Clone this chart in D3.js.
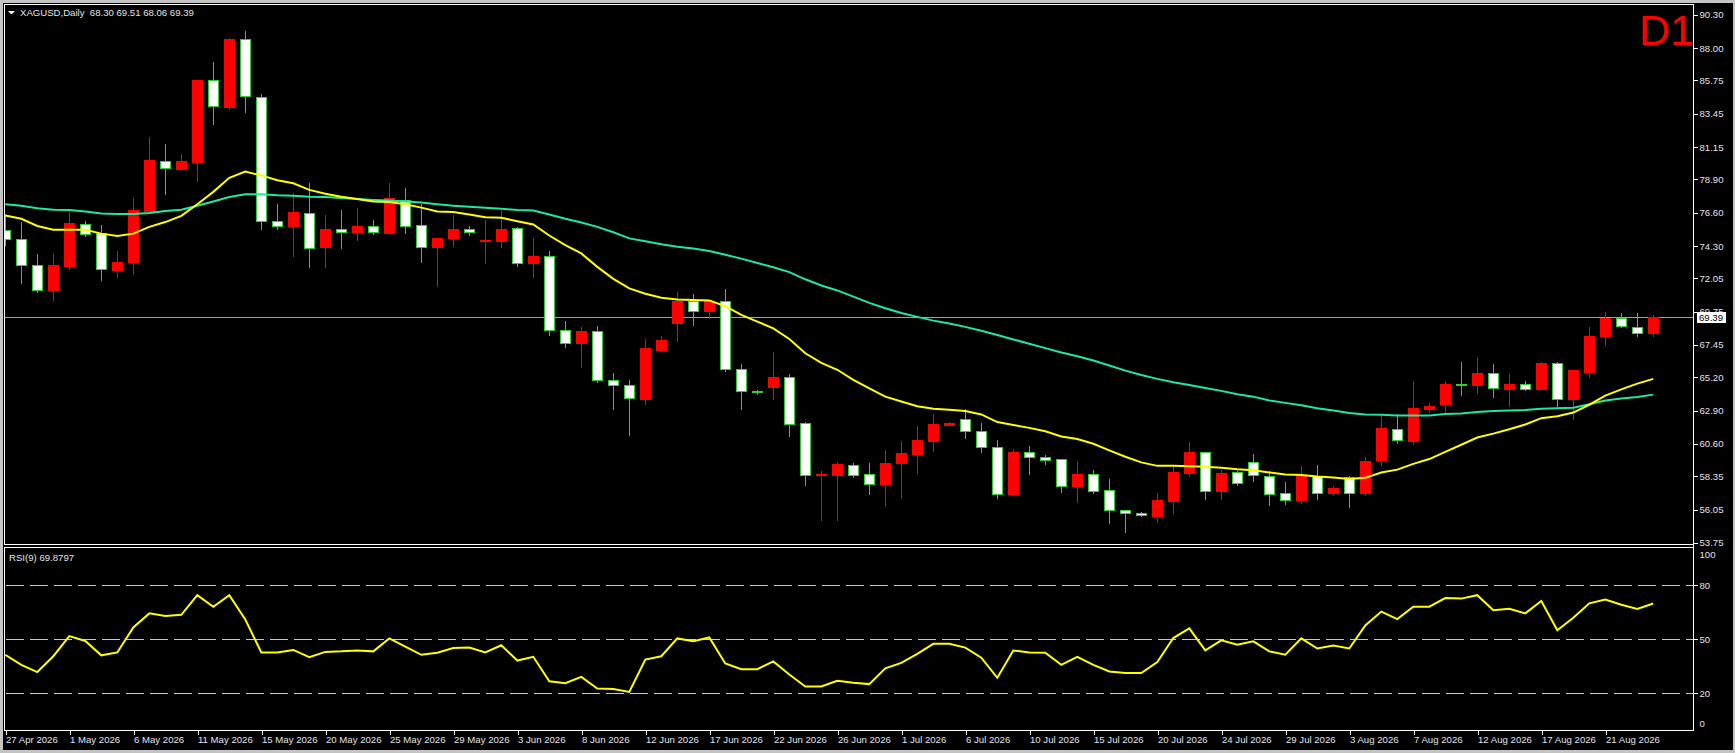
<!DOCTYPE html>
<html>
<head>
<meta charset="utf-8">
<script src="https://cdn.jsdelivr.net/npm/d3@7"></script>
<style>
html, body { margin: 0; padding: 0; background: #000; overflow: hidden; }
text { font-family: "Liberation Sans", Arial, sans-serif; }
</style>
</head>
<body>
<svg id="chart" width="1735" height="753"></svg>
<script>
// daily bars, 27 Apr 2026 .. 25 Aug 2026 (broker has Sunday bars)
const opens = [75.42,74.75,72.95,71.26,72.92,75.85,75.18,72.65,73.19,76.75,
  80.21,79.64,80.11,85.76,83.90,88.59,84.63,76.05,75.68,76.61,
  74.25,75.48,75.25,75.68,75.18,77.51,75.78,74.25,74.85,75.48,
  74.62,74.65,75.55,73.12,73.62,68.50,67.57,68.43,65.04,64.67,
  63.70,67.13,68.96,70.46,69.79,70.49,65.80,64.27,64.54,65.24,
  62.04,58.48,58.48,59.15,58.52,57.82,59.28,59.91,60.81,61.91,
  62.34,61.51,60.38,57.12,60.04,59.68,59.55,57.68,58.52,57.42,
  56.02,55.85,55.62,56.65,58.62,60.01,57.35,58.65,59.35,58.38,
  57.18,56.72,58.35,57.18,58.28,57.18,59.48,61.64,60.81,63.01,
  63.37,64.74,64.67,65.50,64.40,64.74,64.40,66.17,63.70,65.60,
  68.06,69.29,68.70,68.30];
const highs = [76.51,75.95,73.72,73.72,76.68,76.01,75.78,73.98,77.61,81.87,
  81.34,80.64,85.80,87.06,88.70,89.15,84.80,77.18,77.94,78.64,
  76.41,76.78,76.91,76.08,78.64,78.31,77.18,74.82,76.45,75.71,
  76.11,76.81,75.60,74.82,73.92,69.09,68.70,68.76,65.53,65.04,
  67.83,68.10,71.12,70.96,70.56,71.29,66.10,64.30,66.93,65.47,
  62.14,58.72,59.32,59.25,59.25,60.21,60.78,61.81,62.64,62.14,
  63.01,62.04,60.84,60.28,60.48,59.81,59.55,59.45,58.78,58.15,
  56.02,55.92,57.22,59.12,60.74,60.05,58.82,58.70,59.88,58.72,
  57.98,59.05,59.12,57.72,58.38,59.71,62.54,62.64,64.94,63.44,
  64.94,66.24,66.60,66.10,65.47,64.94,66.30,66.30,65.70,68.70,
  69.76,69.69,69.69,69.51];
const lows = [74.35,71.76,71.09,70.56,72.72,75.02,71.95,72.12,72.35,76.61,
  77.91,79.60,78.81,82.77,83.80,83.57,75.48,75.48,73.59,72.85,
  72.85,74.18,74.72,75.15,75.18,75.18,73.19,71.52,74.32,75.08,
  73.12,74.25,72.92,72.12,68.16,67.30,65.94,64.87,63.04,61.21,
  63.37,67.00,67.73,68.80,69.29,65.63,63.01,64.04,63.70,61.18,
  57.78,55.32,55.36,58.32,57.12,56.32,56.89,58.62,60.08,61.88,
  61.04,60.04,56.89,57.05,58.55,59.21,57.25,56.55,57.18,55.12,
  54.49,55.59,55.22,55.79,58.35,56.79,56.79,57.78,58.05,56.35,
  56.45,56.52,56.79,57.05,56.25,57.05,59.15,60.68,60.58,62.81,
  62.64,63.97,64.11,63.87,63.21,64.34,64.40,63.21,62.34,65.20,
  67.47,68.70,68.06,68.06];
const closes = [74.75,72.95,71.26,72.95,75.88,75.15,72.69,73.22,76.81,80.24,
  79.67,80.17,85.76,83.97,88.62,84.66,76.01,75.68,76.65,74.18,
  75.48,75.28,75.71,75.28,77.61,75.68,74.25,74.82,75.48,75.28,
  74.68,75.48,73.12,73.62,68.50,67.60,68.43,65.04,64.70,63.77,
  67.27,67.76,70.46,69.79,70.46,65.80,64.27,64.20,65.20,61.97,
  58.48,58.55,59.18,58.45,57.82,59.28,59.95,60.84,61.97,62.07,
  61.51,60.38,57.12,60.04,59.68,59.48,57.68,58.52,57.35,56.02,
  55.82,55.69,56.69,58.68,60.01,57.35,58.62,57.92,58.42,57.15,
  56.72,58.35,57.18,57.58,57.18,59.45,61.68,60.84,63.11,63.21,
  64.77,64.70,65.53,64.44,64.77,64.40,66.17,63.70,65.70,68.10,
  69.29,68.76,68.30,69.39];

// moving averages (yellow fast, green slow)
const maFast = [76.41,76.18,75.68,75.42,75.42,75.42,75.15,74.98,75.15,75.62,
  75.95,76.38,77.18,78.04,79.01,79.44,79.18,78.84,78.64,78.18,
  77.91,77.71,77.54,77.38,77.34,77.18,76.95,76.68,76.65,76.48,
  76.28,76.25,76.01,75.78,75.02,74.35,73.78,72.85,72.02,71.36,
  70.99,70.72,70.59,70.56,70.53,70.13,69.53,69.06,68.60,67.86,
  66.87,66.20,65.73,65.03,64.44,63.87,63.54,63.21,63.04,62.97,
  62.87,62.64,62.11,61.91,61.71,61.48,61.11,60.94,60.61,60.15,
  59.71,59.32,59.08,59.08,59.05,59.02,58.95,58.85,58.78,58.62,
  58.48,58.45,58.35,58.28,58.18,58.25,58.62,58.82,59.22,59.55,
  60.05,60.54,61.04,61.31,61.61,61.94,62.38,62.51,62.77,63.31,
  63.94,64.37,64.77,65.10];
const maSlow = [77.18,77.08,76.91,76.81,76.78,76.68,76.55,76.51,76.51,76.58,
  76.71,76.81,77.08,77.38,77.68,77.88,77.88,77.81,77.78,77.71,
  77.68,77.61,77.54,77.48,77.44,77.38,77.30,77.18,77.08,77.01,
  76.95,76.88,76.78,76.75,76.48,76.18,75.92,75.62,75.25,74.82,
  74.62,74.42,74.25,74.12,73.95,73.69,73.42,73.12,72.82,72.49,
  71.99,71.56,71.22,70.79,70.36,69.99,69.66,69.39,69.13,68.93,
  68.70,68.43,68.13,67.83,67.53,67.23,66.93,66.67,66.37,66.03,
  65.67,65.37,65.10,64.87,64.67,64.47,64.27,64.04,63.87,63.61,
  63.44,63.27,63.07,62.91,62.74,62.64,62.61,62.57,62.57,62.57,
  62.67,62.71,62.81,62.87,62.91,62.94,63.04,63.07,63.11,63.34,
  63.61,63.74,63.84,64.01];
const rsi9 = [41.4,35.8,31.8,40.6,51.8,49.1,41.1,42.7,56.6,64.4,
  63.0,63.6,74.5,68.1,74.5,61.0,42.7,42.7,44.1,40.1,
  43.0,43.3,43.8,43.3,50.5,45.9,41.4,42.5,45.1,45.4,
  42.7,46.7,38.2,40.3,26.7,25.6,29.1,22.7,22.4,20.8,
  38.7,40.6,50.5,48.9,51.0,36.6,33.4,33.4,37.7,30.4,
  23.8,23.8,27.0,25.9,25.1,33.9,36.9,41.9,47.5,47.5,
  45.4,39.8,28.6,43.8,42.7,42.5,35.8,40.3,35.8,32.1,
  31.3,31.3,37.4,50.7,56.1,43.8,49.4,47.0,48.9,43.3,
  41.4,50.5,44.9,46.5,44.9,57.7,65.4,61.2,68.1,68.1,
  72.9,72.6,74.5,66.2,67.0,64.4,71.3,55.0,62.0,70.0,
  72.1,69.2,66.8,69.88];

// axis labels
const dateLabels = ["27 Apr 2026","1 May 2026","6 May 2026","11 May 2026","15 May 2026",
  "20 May 2026","25 May 2026","29 May 2026","3 Jun 2026","8 Jun 2026","12 Jun 2026",
  "17 Jun 2026","22 Jun 2026","26 Jun 2026","1 Jul 2026","6 Jul 2026","10 Jul 2026",
  "15 Jul 2026","20 Jul 2026","24 Jul 2026","29 Jul 2026","3 Aug 2026","7 Aug 2026",
  "12 Aug 2026","17 Aug 2026","21 Aug 2026"];
const labelEvery = 4; // one date label per 4 bars
const priceTicks = [90.30,88.00,85.75,83.45,81.15,78.90,76.60,74.30,72.05,69.75,
  67.45,65.20,62.90,60.60,58.35,56.05,53.75];
const rsiTicks = [0,20,50,80,100];
const rsiLevels = [20,50,80];
const lastPrice = 69.39;
const titleText = "XAGUSD,Daily  68.30 69.51 68.06 69.39";
const rsiTitle = "RSI(9) 69.8797";

const W = 1735, H = 753;
const axisX = 1693;           // right price-axis line
const mainTop = 4.5, mainBottom = 544.5;
const rsiTop = 547.5, rsiBottom = 730.5;
const labelColor = "#e2e2ea";
const bullColor = "#ff0000", bearBorder = "#32cd32";

const svg = d3.select("#chart");

// window border + black background
svg.append("rect").attr("width", W).attr("height", H).attr("fill", "#c4c4c4");
svg.append("rect").attr("x", 3).attr("y", 3).attr("width", W - 5).attr("height", H - 6).attr("fill", "#000");

const bars = closes.map((c, i) => ({ i, o: opens[i], h: highs[i], l: lows[i], c }));

const x = d3.scaleLinear().domain([0, bars.length - 1]).range([5.3, 5.3 + 16 * (bars.length - 1)]);
const y = d3.scaleLinear().domain([53.75, 90.30]).range([542.9, 14.7]);
const yr = d3.scaleLinear().domain([0, 100]).range([729.3, 549.3]);

const defs = svg.append("defs");
defs.append("clipPath").attr("id", "clipMain").append("rect")
    .attr("x", 5).attr("y", mainTop + 0.5).attr("width", axisX - 5).attr("height", mainBottom - mainTop - 1);
defs.append("clipPath").attr("id", "clipRsi").append("rect")
    .attr("x", 5).attr("y", rsiTop + 0.5).attr("width", axisX - 5).attr("height", rsiBottom - rsiTop - 1);

// panel frames
const frames = svg.append("g").attr("fill", "none").attr("stroke", "#fff").attr("stroke-width", 1)
    .attr("shape-rendering", "crispEdges");
frames.append("rect").attr("x", 4.5).attr("y", mainTop).attr("width", axisX - 4).attr("height", mainBottom - mainTop);
frames.append("rect").attr("x", 4.5).attr("y", rsiTop).attr("width", axisX - 4).attr("height", rsiBottom - rsiTop);

// ---- main panel ----
const main = svg.append("g").attr("clip-path", "url(#clipMain)");

// current price line
main.append("line")
    .attr("x1", 5).attr("x2", axisX)
    .attr("y1", Math.round(y(lastPrice)) + 0.5).attr("y2", Math.round(y(lastPrice)) + 0.5)
    .attr("stroke", "#9aa4ae").attr("stroke-width", 1).attr("shape-rendering", "crispEdges");

// candles
const candle = main.append("g").attr("shape-rendering", "crispEdges")
    .selectAll("g").data(bars).enter().append("g");

candle.append("line")
    .attr("x1", d => Math.round(x(d.i)) + 0.5)
    .attr("x2", d => Math.round(x(d.i)) + 0.5)
    .attr("y1", d => Math.round(y(d.h)))
    .attr("y2", d => Math.round(y(d.l)) + 1)
    .attr("stroke", d => d.c > d.o ? bullColor : bearBorder);

candle.each(function (d) {
    const g = d3.select(this);
    const cx = Math.round(x(d.i));
    const top = Math.round(y(Math.max(d.o, d.c)));
    const bot = Math.round(y(Math.min(d.o, d.c)));
    if (d.c > d.o) {
        g.append("rect").attr("x", cx - 5).attr("y", top)
            .attr("width", 11).attr("height", Math.max(1, bot - top + 1))
            .attr("fill", bullColor);
    } else {
        g.append("rect").attr("x", cx - 4.5).attr("y", top + 0.5)
            .attr("width", 10).attr("height", Math.max(0, bot - top))
            .attr("fill", "#fff").attr("stroke", bearBorder).attr("stroke-width", 1);
    }
});

// moving averages
const maLine = d3.line().x((d, i) => x(i)).y(d => y(d));
main.append("path").datum(maSlow).attr("d", maLine)
    .attr("fill", "none").attr("stroke", "#1ee8a0").attr("stroke-width", 2);
main.append("path").datum(maFast).attr("d", maLine)
    .attr("fill", "none").attr("stroke", "#ffff00").attr("stroke-width", 2);

// price axis
const yAxis = svg.append("g")
    .attr("transform", `translate(${axisX + 0.5},0)`)
    .call(d3.axisRight(y).tickValues(priceTicks).tickFormat(d3.format(".2f")).tickSize(4).tickPadding(2));
yAxis.select(".domain").remove();
yAxis.selectAll("line").attr("stroke", "#fff").attr("shape-rendering", "crispEdges");
yAxis.selectAll("text").attr("fill", labelColor).attr("font-size", "9.6px")
    .attr("font-family", "'Liberation Sans', Arial, sans-serif");

// axis line
svg.append("line").attr("x1", axisX + 0.5).attr("x2", axisX + 0.5).attr("y1", 4).attr("y2", rsiBottom)
    .attr("stroke", "#fff").attr("shape-rendering", "crispEdges");

// last price box
const lpY = Math.round(y(lastPrice));
svg.append("rect").attr("x", 1697).attr("y", lpY - 5).attr("width", 29).attr("height", 11).attr("fill", "#fff");
svg.append("text").attr("x", 1699).attr("y", lpY + 4).attr("fill", "#000")
    .attr("font-size", "9.6px").text(lastPrice.toFixed(2));

// title + D1
svg.append("path").attr("d", "M8,11 L15,11 L11.5,14.5 Z").attr("fill", "#fff");
svg.append("text").attr("x", 20).attr("y", 16).attr("fill", labelColor)
    .attr("font-size", "9.6px").attr("xml:space", "preserve").style("white-space", "pre").text(titleText);
svg.append("text").attr("x", 1694).attr("y", 44.5).attr("text-anchor", "end")
    .attr("fill", "#ff0000").attr("font-size", "43px").text("D1");

// ---- RSI panel ----
const rsiG = svg.append("g").attr("clip-path", "url(#clipRsi)");
rsiG.selectAll("line.lvl").data(rsiLevels).enter().append("line")
    .attr("class", "lvl")
    .attr("x1", 6).attr("x2", axisX)
    .attr("y1", d => Math.round(yr(d)) + 0.5).attr("y2", d => Math.round(yr(d)) + 0.5)
    .attr("stroke", "#c8c8c8").attr("stroke-dasharray", "18,6").attr("shape-rendering", "crispEdges");
rsiG.append("path").datum(rsi9)
    .attr("d", d3.line().x((d, i) => x(i)).y(d => yr(d)))
    .attr("fill", "none").attr("stroke", "#ffff00").attr("stroke-width", 2);

svg.append("text").attr("x", 9).attr("y", 561).attr("fill", labelColor)
    .attr("font-size", "9.6px").text(rsiTitle);

const rAxis = svg.append("g")
    .attr("transform", `translate(${axisX + 0.5},0)`)
    .call(d3.axisRight(yr).tickValues(rsiTicks).tickSize(4).tickPadding(2));
rAxis.select(".domain").remove();
rAxis.selectAll("line").attr("stroke", "#fff").attr("shape-rendering", "crispEdges")
    .attr("display", d => (d === 0 || d === 100) ? "none" : null);
rAxis.selectAll("text").attr("fill", labelColor).attr("font-size", "9.6px")
    .attr("font-family", "'Liberation Sans', Arial, sans-serif")
    .attr("y", d => d === 100 ? 5 : (d === 0 ? -6 : 0));

// ---- date axis ----
const tickIdx = dateLabels.map((d, k) => k * labelEvery);
const xAxis = svg.append("g")
    .attr("transform", `translate(0.5,${rsiBottom})`)
    .call(d3.axisBottom(x).tickValues(tickIdx).tickFormat((d, k) => dateLabels[k]).tickSize(4).tickPadding(2));
xAxis.select(".domain").remove();
xAxis.selectAll(".tick").attr("transform", d => `translate(${Math.round(x(d)) + 0.5},0)`);
xAxis.selectAll("line").attr("stroke", "#fff").attr("shape-rendering", "crispEdges");
xAxis.selectAll("text").attr("fill", labelColor).attr("font-size", "9.6px")
    .attr("font-family", "'Liberation Sans', Arial, sans-serif")
    .attr("text-anchor", "start").attr("x", 0);
</script>
</body>
</html>
